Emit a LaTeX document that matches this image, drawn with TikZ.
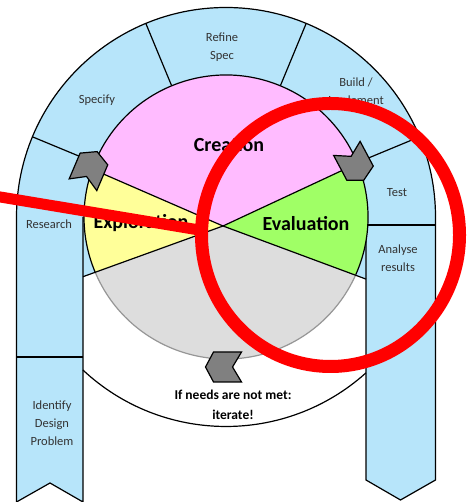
\documentclass[tikz,border=0pt]{standalone}
\usepackage{fontspec}
\setmainfont{Carlito}
\definecolor{archblue}{RGB}{183,229,250}
\definecolor{creapink}{RGB}{255,187,255}
\definecolor{explyellow}{RGB}{255,255,153}
\definecolor{evalgreen}{RGB}{160,255,102}
\definecolor{lowgray}{RGB}{221,221,221}
\definecolor{rimgray}{RGB}{150,150,150}
\definecolor{chevgray}{RGB}{128,128,128}
\definecolor{markred}{RGB}{255,0,0}
\begin{document}
\begin{tikzpicture}[x=1pt,y=1pt,line width=1.2pt,
  lbl/.style={align=center,text=black!80,font=\fontsize{12.5}{18}\selectfont},
  phase/.style={anchor=base,font=\fontsize{20}{24}\selectfont\bfseries},
  note/.style={align=center,font=\fontsize{13.5}{20}\selectfont\bfseries},
  chev/.pic={\draw[fill=chevgray,line join=miter] (18,0) -- (10,15) -- (-18,15) -- (-9,0) -- (-18,-15) -- (10,-15) -- cycle;}]
\useasboundingbox (0,0) rectangle (468,502);
\coordinate (C) at (226,285);
\coordinate (M) at (223,276);
\coordinate (colL) at (83,225.3);
\coordinate (colR) at (366,222.9);
\coordinate (ULarr) at ([shift={(156.5:145)}]M);
\coordinate (URarr) at ([shift={(25:146)}]M);
\coordinate (BTarr) at (223.5,135);
% arch and columns
\fill[archblue] (16.5,0) -- (16.5,285) arc[start angle=180,end angle=0,radius=209.5]
  -- (435.5,22) -- (400.5,2) -- (366,22) -- (colR) -- (M) -- (colL) -- (83,0) -- (50,19) -- cycle;
\draw (16.5,0) -- (16.5,285) arc[start angle=180,end angle=0,radius=209.5]
  -- (435.5,22) -- (400.5,2) -- (366,22) -- (366,277);
\draw (83,285) -- (83,0) -- (50,19) -- (16.5,0);
\draw ([shift={(226.9:209.5)}]C) arc[start angle=226.9,end angle=311.9,radius=209.5];
\foreach \a in {22.5,67.5,112.5,157.5}
  \draw ([shift={(\a:142)}]C) -- ([shift={(\a:209.5)}]C);
\draw (16.5,145) -- (83,145);
\draw (366,277) -- (435.5,277);
% phases
\begin{scope}
  \clip (C) circle[radius=142];
  \fill[lowgray] (C) circle[radius=142];
  \fill[creapink] (M) -- +(156.5:300) -- +(90:300) -- +(25:300) -- cycle;
  \fill[explyellow] (M) -- +(156.5:300) -- +(180:300) -- +(199.9:300) -- cycle;
  \fill[evalgreen] (M) -- +(25:300) -- +(0:300) -- +(-20.4:300) -- cycle;
\end{scope}
\draw ([shift={(-24:142)}]C) arc[start angle=-24,end angle=203,radius=142];
\draw[rimgray] ([shift={(203:142)}]C) arc[start angle=203,end angle=336,radius=142];
\draw (ULarr) -- (M) -- (URarr);
\draw (colL) -- (M) -- (colR);
\pic[rotate=67] at (ULarr) {chev};
\pic[rotate=-62] at (URarr) {chev};
\pic[rotate=180] at (BTarr) {chev};
% labels
\node[lbl] (refine) at (222,455) {Refine\\Spec};
\node[lbl] (specify) at (97,402) {Specify};
\node[lbl] (build) at (356,410) {Build /\\Implement};
\node[lbl] (test) at (397,309) {Test};
\node[lbl] (research) at (49,278) {Research};
\node[lbl] (analyse) at (398,244) {Analyse\\results};
\node[lbl] (identify) at (52,79) {Identify\\Design\\Problem};
\node[phase] (creation) at (229,350) {Creation};
\node[phase] (exploration) at (141,273) {Exploration};
\node[phase] (evaluation) at (306,271) {Evaluation};
\node[note] (iterate) at (233,97) {If needs are not met:\\iterate!};
% mark-up
\draw[markred,line width=11pt] (-10,306.7) -- (204,271.2);
\draw[markred,line width=13pt] (330.5,267) ellipse[x radius=129,y radius=131.5];
\end{tikzpicture}
\end{document}
